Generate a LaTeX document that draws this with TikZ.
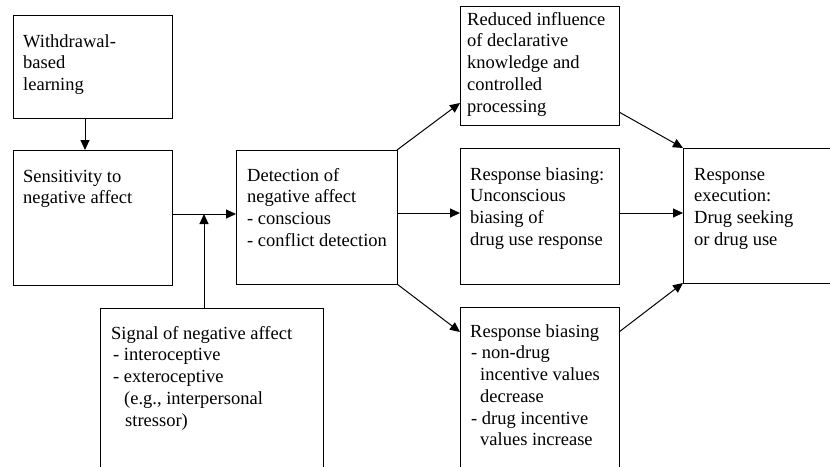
\documentclass[tikz,border=0pt]{standalone}
\usepackage{fontspec}
\setmainfont{Liberation Serif}
\newfontfamily\tms{Liberation Serif}
\usetikzlibrary{arrows.meta}
\tikzset{
  boxst/.style={draw, line width=1pt, rectangle, inner sep=0pt, outer sep=0pt},
  txt/.style={anchor=north west, inner sep=0pt, align=left, font=\tms\fontsize{18.5}{21.7}\selectfont},
  arr/.style={line width=1pt, -{Triangle[length=10pt,width=9pt]}}
}
% name x1 y1 x2 y2 dx topoffset text
\newcommand\mkbox[8]{%
  \node[boxst, minimum width={(#4-#2)*1pt}, minimum height={(#5-#3)*1pt}, anchor=north west] (#1) at (#2,#3) {};
  \node[txt] (#1t) at ([xshift=#6pt, yshift=-#7pt]#1.north west) {\rule{0pt}{14pt}#8};
}
\begin{document}
\begin{tikzpicture}[x=1pt, y=-1pt]
\useasboundingbox (0,0) rectangle (830,466);
\clip (0,0) rectangle (830,466);
\mkbox{W}{13}{15}{172}{118}{10}{18}{Withdrawal-\\based\\learning}
\mkbox{S}{13}{150}{172}{285}{10}{18}{Sensitivity to\\negative affect}
\mkbox{D}{236}{150}{397}{284}{11}{17}{Detection of\\negative affect\\- conscious\\- conflict detection}
\mkbox{Sig}{100}{308}{323}{490}{11}{17}{Signal of negative affect\\\hspace{2pt}- interoceptive\\\hspace{2pt}- exteroceptive\\\hspace{13pt}(e.g., interpersonal\\\hspace{14pt}stressor)}
\mkbox{R}{460}{6}{619}{125}{7}{5}{Reduced influence\\of declarative\\knowledge and\\controlled\\processing}
\mkbox{B}{460}{148}{619}{284}{10}{18}{Response biasing:\\Unconscious\\biasing of\\drug use response}
\mkbox{T}{460}{307}{619}{490}{10}{16}{Response biasing\\\hspace{1pt}- non-drug\\\hspace{10pt}incentive values\\\hspace{10pt}decrease\\\hspace{1pt}- drug incentive\\\hspace{10pt}values increase}
\mkbox{E}{683}{148}{860}{283}{11}{18}{Response\\execution:\\Drug seeking\\or drug use}
\coordinate (j) at (204,214);
\draw[arr] ([xshift=-7.5pt]W.south) -- ([xshift=-7.5pt]W.south |- S.north);
\draw[arr] (S.east |- j) -- (D.west |- j);
\draw[arr] (Sig.north -| j) -- (j);
\draw[arr] (D.north east) -- (R.west |- 0,103);
\draw[arr] (D.east |- 0,213) -- (B.west |- 0,213);
\draw[arr] (D.south east) -- (T.west |- 0,332);
\draw[arr] (R.east |- 0,112) -- (E.north west);
\draw[arr] (B.east |- 0,213) -- (E.west |- 0,213);
\draw[arr] (T.east |- 0,332) -- (E.south west);
\end{tikzpicture}
\end{document}
